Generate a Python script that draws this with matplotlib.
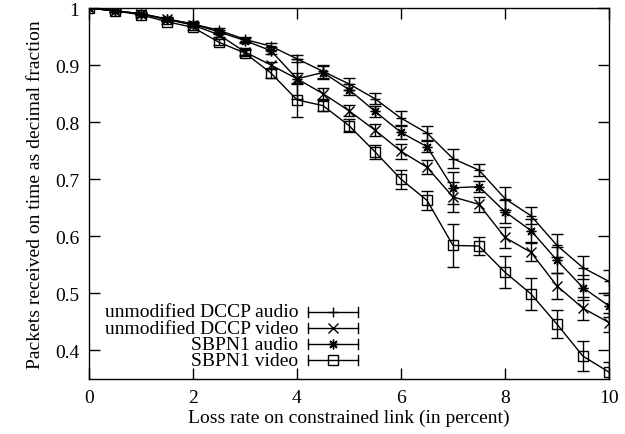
import matplotlib
matplotlib.use("Agg")
import matplotlib.pyplot as plt
from matplotlib.ticker import FixedLocator

plt.rcParams["font.family"] = ["Liberation Serif", "DejaVu Serif"]
plt.rcParams["font.size"] = 14

# loss rate (percent)
loss = [0, 0.5, 1, 1.5, 2, 2.5, 3, 3.5, 4, 4.5, 5,
        5.5, 6, 6.5, 7, 7.5, 8, 8.5, 9, 9.5, 10]

dccp_audio = [1.0, 0.995, 0.99, 0.981, 0.972, 0.961, 0.945, 0.933, 0.911, 0.889, 0.867,
              0.841, 0.807, 0.781, 0.736, 0.716, 0.666, 0.636, 0.584, 0.545, 0.521]
dccp_audio_err = [0, 0.002, 0.002, 0.003, 0.004, 0.004, 0.004, 0.006, 0.006, 0.012, 0.01,
                  0.01, 0.012, 0.013, 0.017, 0.01, 0.02, 0.015, 0.02, 0.02, 0.02]

dccp_video = [1.0, 0.995, 0.99, 0.98, 0.97, 0.953, 0.923, 0.900, 0.876, 0.85, 0.82,
              0.786, 0.749, 0.721, 0.669, 0.656, 0.598, 0.572, 0.513, 0.474, 0.449]
dccp_video_err = [0, 0.002, 0.002, 0.003, 0.004, 0.004, 0.005, 0.006, 0.035, 0.009, 0.01,
                  0.01, 0.013, 0.012, 0.026, 0.013, 0.019, 0.016, 0.022, 0.02, 0.016]

sbpn_audio = [1.0, 0.995, 0.99, 0.98, 0.972, 0.958, 0.943, 0.925, 0.876, 0.887, 0.857,
              0.819, 0.782, 0.757, 0.685, 0.687, 0.643, 0.61, 0.558, 0.51, 0.478]
sbpn_audio_err = [0, 0.002, 0.002, 0.003, 0.004, 0.004, 0.005, 0.006, 0.01, 0.012, 0.01,
                  0.01, 0.012, 0.01, 0.028, 0.01, 0.02, 0.02, 0.023, 0.022, 0.02]

sbpn_video = [1.0, 0.995, 0.988, 0.976, 0.966, 0.940, 0.921, 0.886, 0.839, 0.829, 0.794,
              0.748, 0.700, 0.663, 0.584, 0.583, 0.537, 0.499, 0.446, 0.39, 0.362]
sbpn_video_err = [0, 0.002, 0.003, 0.004, 0.004, 0.005, 0.005, 0.008, 0.03, 0.01, 0.012,
                  0.012, 0.017, 0.017, 0.038, 0.016, 0.028, 0.028, 0.025, 0.026, 0.018]

labels = ["unmodified DCCP audio", "unmodified DCCP video", "SBPN1 audio", "SBPN1 video"]
y_ticks = [0.4, 0.5, 0.6, 0.7, 0.8, 0.9, 1.0]
y_tick_labels = ["0.4", "0.5", "0.6", "0.7", "0.8", "0.9", "1"]
x_ticks = [0, 2, 4, 6, 8, 10]

series = [
    (dccp_audio, dccp_audio_err, "+"),
    (dccp_video, dccp_video_err, "x"),
    (sbpn_audio, sbpn_audio_err, (8, 2, 0)),
    (sbpn_video, sbpn_video_err, "s"),
]

fig = plt.figure(figsize=(6.25, 4.35), dpi=100)
ax = fig.add_axes([0.1424, 0.1264, 0.832, 0.8529])

for vals, errs, mk in series:
    ax.errorbar(loss, vals, yerr=errs, color="black", lw=1, elinewidth=1,
                capsize=4.5, capthick=1, marker=mk, ms=7, mew=1,
                mfc="none", mec="black")

# gnuplot-style key: right-aligned text, errorbar sample to the right
row_y = [0.181, 0.137, 0.094, 0.051]
for (vals, errs, mk), lab, yy in zip(series, labels, row_y):
    ax.text(0.402, yy, lab, transform=ax.transAxes, ha="right", va="center")
    ax.plot([0.421, 0.517], [yy, yy], transform=ax.transAxes, color="black", lw=1)
    for xx in (0.421, 0.517):
        ax.plot([xx, xx], [yy - 0.013, yy + 0.013], transform=ax.transAxes,
                color="black", lw=1)
    ax.plot([0.469], [yy], transform=ax.transAxes, marker=mk, ms=7, mew=1,
            mfc="none", mec="black", color="black")

ax.set_xlim(0, 10)
ax.set_ylim(0.35, 1.0)
ax.xaxis.set_major_locator(FixedLocator(x_ticks))
ax.set_yticks(y_ticks)
ax.set_yticklabels(y_tick_labels)
ax.tick_params(direction="in", length=8, width=1, top=True, right=True, pad=7)
for sp in ax.spines.values():
    sp.set_linewidth(1)

ax.set_xlabel("Loss rate on constrained link (in percent)", labelpad=2)
ax.set_ylabel("Packets received on time as decimal fraction", labelpad=8)

fig.savefig("out.png", dpi=100)
